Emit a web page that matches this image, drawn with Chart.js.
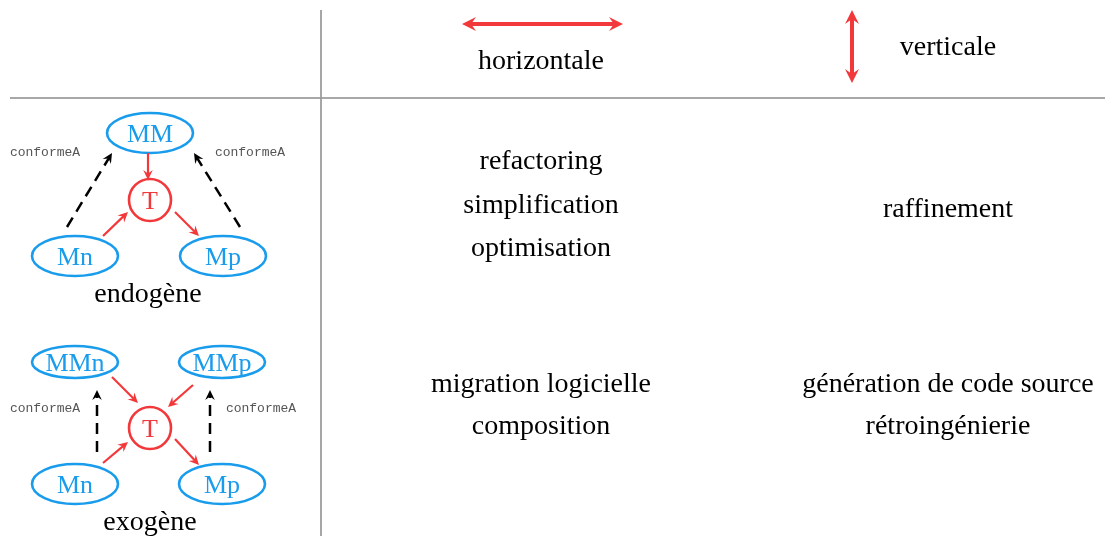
<!DOCTYPE html>
<html><head><meta charset="utf-8">
<script src="https://cdn.jsdelivr.net/npm/chart.js@4"></script>
<style>html,body{margin:0;padding:0;background:#fff}canvas{display:block}</style>
</head><body>
<canvas id="c" width="1105" height="536"></canvas>
<script>
// ---- data ----
const nodeLabels = ['MM','T','Mn','Mp','MMn','MMp','T','Mn','Mp'];
const nodeKinds  = ['model','transfo','model','model','model','model','transfo','model','model'];
const nodeX      = [150,150,75,223,75,222,150,75,222];
const nodeY      = [133,200,256,256,362,362,428,484,484];

const edgeKinds = ['transfo','transfo','transfo','conforme','conforme',
                   'transfo','transfo','transfo','transfo','conforme','conforme'];
const edgeX1 = [148,103,175, 67,240, 112,193,103,175, 97,210];
const edgeY1 = [153,236,212,227,227, 377,385,463,439,452,452];
const edgeX2 = [148,128,199,112,194, 138,168,128,199, 97,210];
const edgeY2 = [180,212,236,153,153, 403,407,442,465,390,390];

const dirArrowX1 = [462,852];
const dirArrowY1 = [24,10];
const dirArrowX2 = [623,852];
const dirArrowY2 = [24,83];

const ruleX1 = [321,10];
const ruleY1 = [10,98];
const ruleX2 = [321,1105];
const ruleY2 = [536,98];

const captionText = ['horizontale','verticale','endogène','exogène',
  'refactoring','simplification','optimisation','raffinement',
  'migration logicielle','composition','génération de code source','rétroingénierie'];
const captionX = [541,948,148,150,541,541,541,948,541,541,948,948];
const captionY = [60,46,293,521,160,204,247,208,383,425,383,425];

const noteText = ['conformeA','conformeA','conformeA','conformeA'];
const noteX = [45,250,45,261];
const noteY = [153,153,409,409];

// ---- styles ----
const BLUE = '#1a9cec', RED = '#f2383a';
const SERIF = '"Liberation Serif", "DejaVu Serif", serif';
const MONO = '"Liberation Mono", "DejaVu Sans Mono", monospace';

const datasets = [];
datasets.push({label:'nodes', data: nodeX.map((x,i)=>({x, y: nodeY[i]})), pointRadius:0, showLine:false});
edgeKinds.forEach((k,i)=>datasets.push({label:'edge'+i, kind:k,
  data:[{x:edgeX1[i],y:edgeY1[i]},{x:edgeX2[i],y:edgeY2[i]}], pointRadius:0, showLine:false}));
dirArrowX1.forEach((x,i)=>datasets.push({label:'dir'+i, kind:'dir',
  data:[{x,y:dirArrowY1[i]},{x:dirArrowX2[i],y:dirArrowY2[i]}], pointRadius:0, showLine:false}));
ruleX1.forEach((x,i)=>datasets.push({label:'rule'+i, kind:'rule',
  data:[{x,y:ruleY1[i]},{x:ruleX2[i],y:ruleY2[i]}], pointRadius:0, showLine:true,
  borderColor: i===0 ? '#9a9a9a' : '#a8a8a8', borderWidth: i===0 ? 1 : 2.2}));

function head(ctx, tx, ty, ang, len, half, color){
  const c = Math.cos(ang), s = Math.sin(ang);
  ctx.beginPath();
  ctx.moveTo(tx, ty);
  ctx.lineTo(tx - len*c - half*s, ty - len*s + half*c);
  ctx.lineTo(tx - 0.65*len*c, ty - 0.65*len*s);
  ctx.lineTo(tx - len*c + half*s, ty - len*s - half*c);
  ctx.closePath();
  ctx.fillStyle = color; ctx.fill();
}

const diagram = {
  id:'diagram',
  afterDatasetsDraw(chart){
    const ctx = chart.ctx;
    const xs = chart.scales.x, ys = chart.scales.y;
    ctx.save();
    chart.data.datasets.forEach((ds, di)=>{
      const meta = chart.getDatasetMeta(di);
      if (ds.label === 'nodes'){
        meta.data.forEach((p,i)=>{
          const kind = nodeKinds[i], lab = nodeLabels[i];
          const col = kind==='transfo' ? RED : BLUE;
          ctx.beginPath();
          if (kind==='transfo') ctx.arc(p.x, p.y, 21, 0, Math.PI*2);
          else ctx.ellipse(p.x, p.y, 43, lab.length>2 ? 16 : 20, 0, 0, Math.PI*2);
          ctx.lineWidth = 2.6; ctx.strokeStyle = col; ctx.stroke();
          ctx.fillStyle = col; ctx.font = '26px ' + SERIF;
          ctx.textAlign='center'; ctx.textBaseline='middle';
          ctx.fillText(lab, p.x, p.y+2);
        });
      } else if (ds.kind==='transfo' || ds.kind==='conforme'){
        const a = meta.data[0], b = meta.data[1];
        const ang = Math.atan2(b.y-a.y, b.x-a.x);
        const col = ds.kind==='transfo' ? RED : '#000';
        const hl = 10;
        ctx.beginPath();
        ctx.moveTo(a.x, a.y);
        ctx.lineTo(b.x - 0.6*hl*Math.cos(ang), b.y - 0.6*hl*Math.sin(ang));
        ctx.strokeStyle = col;
        ctx.lineWidth = ds.kind==='transfo' ? 2.2 : 2.5;
        ctx.setLineDash(ds.kind==='conforme' ? [11,7] : []);
        ctx.stroke();
        ctx.setLineDash([]);
        head(ctx, b.x, b.y, ang, hl, 4.8, col);
      } else if (ds.kind==='dir'){
        const a = meta.data[0], b = meta.data[1];
        const ang = Math.atan2(b.y-a.y, b.x-a.x);
        const hl = 14;
        ctx.beginPath();
        ctx.moveTo(a.x + 0.6*hl*Math.cos(ang), a.y + 0.6*hl*Math.sin(ang));
        ctx.lineTo(b.x - 0.6*hl*Math.cos(ang), b.y - 0.6*hl*Math.sin(ang));
        ctx.strokeStyle = RED; ctx.lineWidth = 4; ctx.stroke();
        head(ctx, b.x, b.y, ang, hl, 7, RED);
        head(ctx, a.x, a.y, ang+Math.PI, hl, 7, RED);
      }
    });
    ctx.textAlign='center'; ctx.textBaseline='middle';
    ctx.fillStyle = '#000'; ctx.font = '28px ' + SERIF;
    captionText.forEach((t,i)=>ctx.fillText(t, xs.getPixelForValue(captionX[i]), ys.getPixelForValue(captionY[i]) + 2));
    ctx.fillStyle = '#555'; ctx.font = '13px ' + MONO;
    noteText.forEach((t,i)=>ctx.fillText(t, xs.getPixelForValue(noteX[i]), ys.getPixelForValue(noteY[i])));
    ctx.restore();
  }
};

new Chart(document.getElementById('c'), {
  type:'scatter',
  data:{datasets},
  options:{
    responsive:false, animation:false, devicePixelRatio:1, events:[],
    layout:{padding:0},
    plugins:{legend:{display:false}, tooltip:{enabled:false}},
    scales:{
      x:{type:'linear', min:0, max:1105, display:false},
      y:{type:'linear', min:0, max:536, reverse:true, display:false}
    }
  },
  plugins:[diagram]
});
</script>
</body></html>
